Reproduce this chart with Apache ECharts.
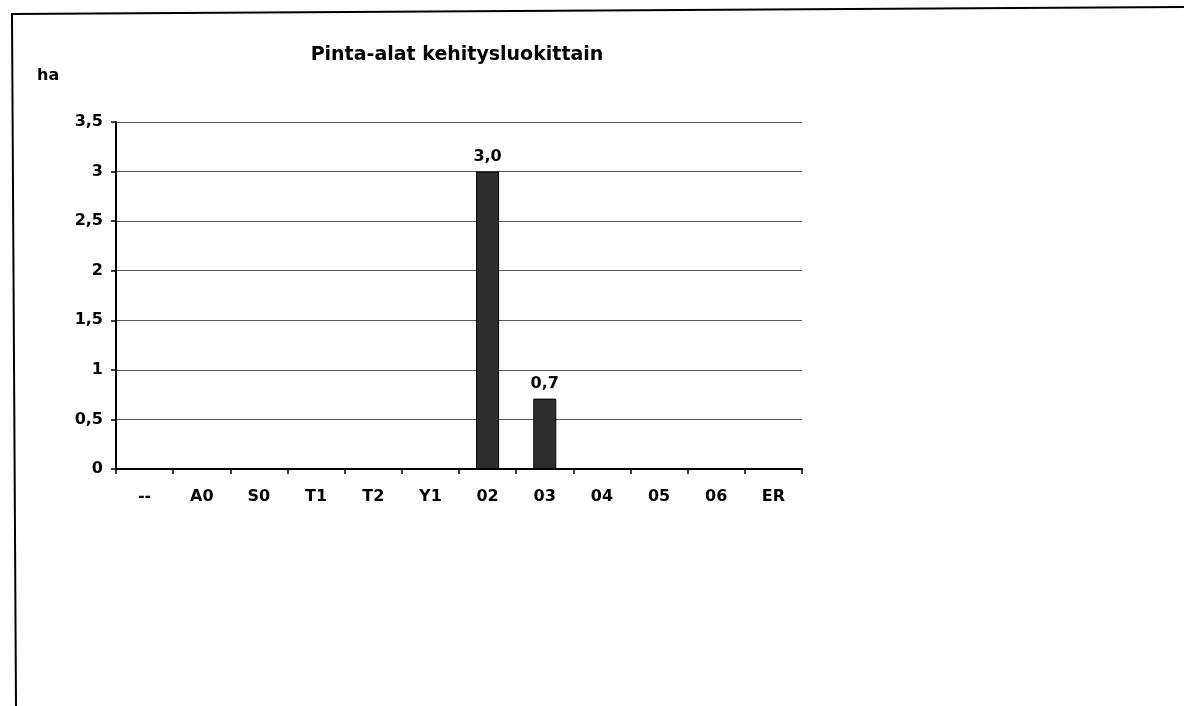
<!DOCTYPE html>
<html><head><meta charset="utf-8">
<script src="https://cdn.jsdelivr.net/npm/echarts@6/dist/echarts.min.js"></script>
<style>html,body{margin:0;padding:0;background:#fff}#c{width:1184px;height:706px}</style>
</head><body><div id="c"></div>
<script>
const categories = ['--','A0','S0','T1','T2','Y1','02','03','04','05','06','ER'];
const areaValues = [0,0,0,0,0,0,3.0,0.71,0,0,0,0];
const yTicks = {min:0, max:3.5, interval:0.5};
const titleText = 'Pinta-alat kehitysluokittain';
const unitText = 'ha';

const font = 'DejaVu Sans, Verdana, sans-serif';
const chart = echarts.init(document.getElementById('c'), null, {renderer:'canvas'});
chart.setOption({
  animation:false,
  backgroundColor:'#fff',
  title:{text:titleText, left:452, textAlign:'center', top:41,
    textStyle:{fontFamily:font, fontSize:19, fontWeight:'bold', color:'#000'}},
  graphic:[
    {type:'polyline', shape:{points:[[1184,7],[12,14],[16,706]]}, style:{stroke:'#000', lineWidth:2, fill:null}},
    {type:'text', left:37, top:68, style:{text:unitText, font:'bold 16px DejaVu Sans', fill:'#000'}}
  ],
  grid:{left:116, right:382, top:122, bottom:237},
  xAxis:{type:'category', data:categories,
    axisLine:{lineStyle:{color:'#000', width:2}},
    axisTick:{show:true, length:5, lineStyle:{color:'#000', width:1.5}},
    axisLabel:{fontFamily:font, fontSize:16, fontWeight:'bold', color:'#000', margin:20}},
  yAxis:{type:'value', min:yTicks.min, max:yTicks.max, interval:yTicks.interval,
    axisLine:{show:true, lineStyle:{color:'#000', width:2}},
    axisTick:{show:true, length:5, lineStyle:{color:'#000', width:1.5}},
    splitLine:{lineStyle:{color:'#555', width:1}},
    axisLabel:{fontFamily:font, fontSize:16, fontWeight:'bold', color:'#000', margin:13,
      formatter:v=>String(v).replace('.',',')}},
  series:[{type:'bar', data:areaValues, barWidth:23,
    itemStyle:{color:'#2e2e2e', borderColor:'#000', borderWidth:1},
    label:{show:true, position:'top', distance:7, fontFamily:font, fontSize:16, fontWeight:'bold', color:'#000',
      formatter:p=>p.value>0 ? p.value.toFixed(1).replace('.',',') : ''}}]
});
</script></body></html>
